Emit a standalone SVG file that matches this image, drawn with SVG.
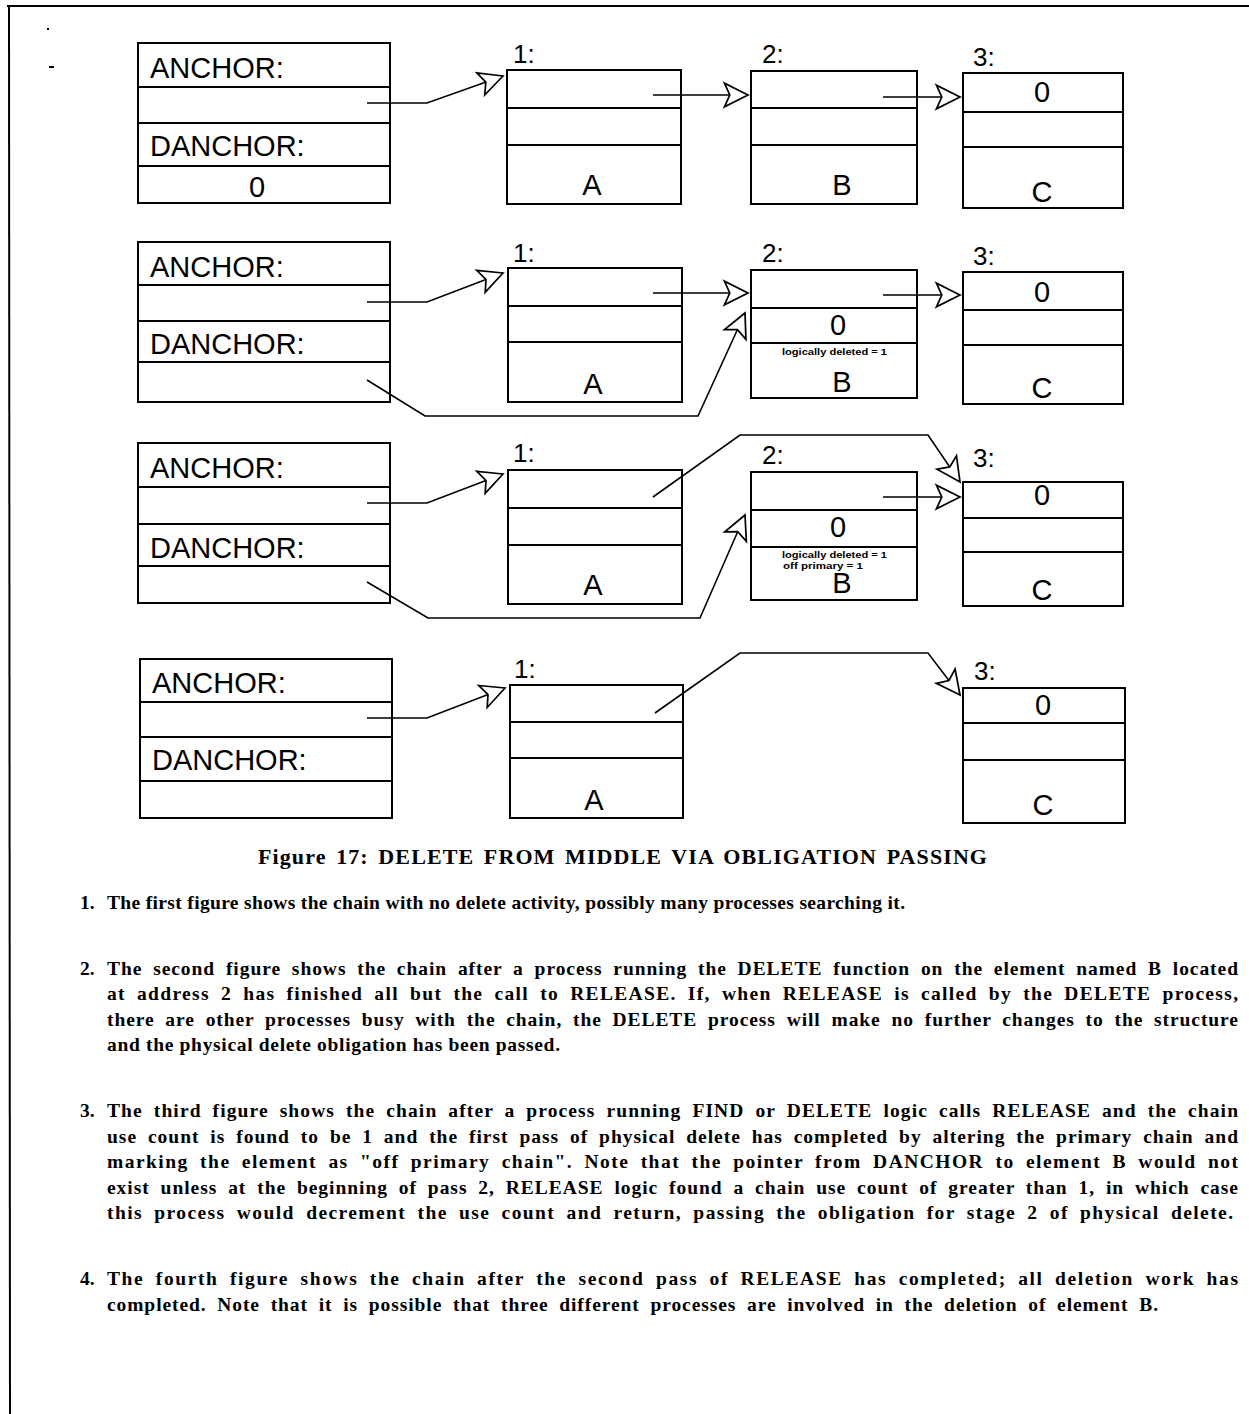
<svg xmlns="http://www.w3.org/2000/svg" width="1249" height="1414" viewBox="0 0 1249 1414">
<style>
.box{fill:none;stroke:#000;stroke-width:2}
.div{stroke:#000;stroke-width:2}
.lbl{font-family:"Liberation Sans",Arial,sans-serif;font-size:29px;fill:#000}
.num{font-family:"Liberation Sans",Arial,sans-serif;font-size:26px;fill:#000}
.tiny{font-family:"Liberation Sans",Arial,sans-serif;font-size:9px;font-weight:bold;fill:#000}
.con{fill:none;stroke:#000;stroke-width:1.6;marker-end:url(#ah)}
.body{font-family:"Liberation Serif","Times New Roman",serif;font-size:19.5px;font-weight:bold;fill:#000}
.j{word-spacing:5px}
.cap{font-family:"Liberation Serif","Times New Roman",serif;font-size:22px;font-weight:bold;fill:#000;word-spacing:3px}
.mk{stroke:#000;stroke-width:2}
</style>
<defs>
<marker id="ah" markerUnits="userSpaceOnUse" markerWidth="30" markerHeight="30" viewBox="-25 -14 28 28" refX="0" refY="0" orient="auto">
<path d="M0,0 L-22,-11 L-17,0 L-22,11 Z" fill="#fff" stroke="#000" stroke-width="1.6" stroke-linejoin="miter"/>
</marker>
</defs>
<rect width="1249" height="1414" fill="#fff"/>
<g id="border">
<line x1="7" y1="6" x2="1249" y2="6" class="mk"/>
<line x1="9" y1="5" x2="10" y2="1414" class="mk"/>
<line x1="47" y1="29" x2="49" y2="29" class="mk"/>
<line x1="49" y1="67" x2="54" y2="67" class="mk"/>
</g>

<!-- Figure 1 -->
<g id="f1-anchor">
<rect x="138" y="43" width="252" height="160" class="box"/>
<line x1="138" y1="87" x2="390" y2="87" class="div"/>
<line x1="138" y1="123" x2="390" y2="123" class="div"/>
<line x1="138" y1="166" x2="390" y2="166" class="div"/>
<text x="150" y="78" class="lbl">ANCHOR:</text>
<text x="150" y="156" class="lbl">DANCHOR:</text>
<text x="257" y="197" class="lbl" text-anchor="middle">0</text>
</g>
<g id="f1-n1">
<text x="513" y="63" class="num">1:</text>
<rect x="507" y="70" width="174" height="134" class="box"/>
<line x1="507" y1="108" x2="681" y2="108" class="div"/>
<line x1="507" y1="145" x2="681" y2="145" class="div"/>
<text x="592" y="195" class="lbl" text-anchor="middle">A</text>
</g>
<g id="f1-n2">
<text x="762" y="63" class="num">2:</text>
<rect x="751" y="71" width="166" height="133" class="box"/>
<line x1="751" y1="108" x2="917" y2="108" class="div"/>
<line x1="751" y1="145" x2="917" y2="145" class="div"/>
<text x="842" y="195" class="lbl" text-anchor="middle">B</text>
</g>
<g id="f1-n3">
<text x="973" y="66" class="num">3:</text>
<rect x="963" y="73" width="160" height="135" class="box"/>
<line x1="963" y1="112" x2="1123" y2="112" class="div"/>
<line x1="963" y1="147" x2="1123" y2="147" class="div"/>
<text x="1042" y="102" class="lbl" text-anchor="middle">0</text>
<text x="1042" y="202" class="lbl" text-anchor="middle">C</text>
</g>

<!-- Figure 2 -->
<g id="f2-anchor">
<rect x="138" y="242" width="252" height="160" class="box"/>
<line x1="138" y1="285" x2="390" y2="285" class="div"/>
<line x1="138" y1="321" x2="390" y2="321" class="div"/>
<line x1="138" y1="362" x2="390" y2="362" class="div"/>
<text x="150" y="277" class="lbl">ANCHOR:</text>
<text x="150" y="354" class="lbl">DANCHOR:</text>
</g>
<g id="f2-n1">
<text x="513" y="262" class="num">1:</text>
<rect x="508" y="268" width="174" height="134" class="box"/>
<line x1="508" y1="306" x2="682" y2="306" class="div"/>
<line x1="508" y1="342" x2="682" y2="342" class="div"/>
<text x="593" y="394" class="lbl" text-anchor="middle">A</text>
</g>
<g id="f2-n2">
<text x="762" y="262" class="num">2:</text>
<rect x="751" y="270" width="166" height="128" class="box"/>
<line x1="751" y1="308" x2="917" y2="308" class="div"/>
<line x1="751" y1="343" x2="917" y2="343" class="div"/>
<text x="838" y="335" class="lbl" text-anchor="middle">0</text>
<text x="782" y="355" class="tiny" textLength="105" lengthAdjust="spacingAndGlyphs">logically deleted = 1</text>
<text x="842" y="392" class="lbl" text-anchor="middle">B</text>
</g>
<g id="f2-n3">
<text x="973" y="265" class="num">3:</text>
<rect x="963" y="272" width="160" height="132" class="box"/>
<line x1="963" y1="310" x2="1123" y2="310" class="div"/>
<line x1="963" y1="345" x2="1123" y2="345" class="div"/>
<text x="1042" y="302" class="lbl" text-anchor="middle">0</text>
<text x="1042" y="398" class="lbl" text-anchor="middle">C</text>
</g>

<!-- Figure 3 -->
<g id="f3-anchor">
<rect x="138" y="443" width="252" height="160" class="box"/>
<line x1="138" y1="487" x2="390" y2="487" class="div"/>
<line x1="138" y1="524" x2="390" y2="524" class="div"/>
<line x1="138" y1="566" x2="390" y2="566" class="div"/>
<text x="150" y="478" class="lbl">ANCHOR:</text>
<text x="150" y="558" class="lbl">DANCHOR:</text>
</g>
<g id="f3-n1">
<text x="513" y="462" class="num">1:</text>
<rect x="508" y="470" width="174" height="134" class="box"/>
<line x1="508" y1="508" x2="682" y2="508" class="div"/>
<line x1="508" y1="545" x2="682" y2="545" class="div"/>
<text x="593" y="595" class="lbl" text-anchor="middle">A</text>
</g>
<g id="f3-n2">
<text x="762" y="464" class="num">2:</text>
<rect x="751" y="472" width="166" height="128" class="box"/>
<line x1="751" y1="510" x2="917" y2="510" class="div"/>
<line x1="751" y1="547" x2="917" y2="547" class="div"/>
<text x="838" y="537" class="lbl" text-anchor="middle">0</text>
<text x="782" y="558" class="tiny" textLength="105" lengthAdjust="spacingAndGlyphs">logically deleted = 1</text>
<text x="783" y="569" class="tiny" textLength="80" lengthAdjust="spacingAndGlyphs">off primary = 1</text>
<text x="842" y="593" class="lbl" text-anchor="middle">B</text>
</g>
<g id="f3-n3">
<text x="973" y="467" class="num">3:</text>
<rect x="963" y="482" width="160" height="124" class="box"/>
<line x1="963" y1="518" x2="1123" y2="518" class="div"/>
<line x1="963" y1="552" x2="1123" y2="552" class="div"/>
<text x="1042" y="505" class="lbl" text-anchor="middle">0</text>
<text x="1042" y="600" class="lbl" text-anchor="middle">C</text>
</g>

<!-- Figure 4 -->
<g id="f4-anchor">
<rect x="140" y="659" width="252" height="159" class="box"/>
<line x1="140" y1="702" x2="392" y2="702" class="div"/>
<line x1="140" y1="737" x2="392" y2="737" class="div"/>
<line x1="140" y1="781" x2="392" y2="781" class="div"/>
<text x="152" y="693" class="lbl">ANCHOR:</text>
<text x="152" y="770" class="lbl">DANCHOR:</text>
</g>
<g id="f4-n1">
<text x="514" y="678" class="num">1:</text>
<rect x="510" y="685" width="173" height="133" class="box"/>
<line x1="510" y1="722" x2="683" y2="722" class="div"/>
<line x1="510" y1="758" x2="683" y2="758" class="div"/>
<text x="594" y="810" class="lbl" text-anchor="middle">A</text>
</g>
<g id="f4-n3">
<text x="974" y="680" class="num">3:</text>
<rect x="963" y="688" width="162" height="135" class="box"/>
<line x1="963" y1="723" x2="1125" y2="723" class="div"/>
<line x1="963" y1="760" x2="1125" y2="760" class="div"/>
<text x="1043" y="715" class="lbl" text-anchor="middle">0</text>
<text x="1043" y="815" class="lbl" text-anchor="middle">C</text>
</g>

<g id="connectors">
<polyline class="con" points="367,103 427,103 503,76"/>
<polyline class="con" points="653,95 748,95"/>
<polyline class="con" points="883,97 960,97"/>

<polyline class="con" points="367,302 427,302 503,273"/>
<polyline class="con" points="653,293 748,293"/>
<polyline class="con" points="883,295 960,295"/>
<polyline class="con" points="367,380 425,416 698,416 745,313"/>

<polyline class="con" points="367,503 427,503 503,474"/>
<polyline class="con" points="653,497 740,435 928,435 960,482"/>
<polyline class="con" points="883,497 960,497"/>
<polyline class="con" points="367,582 428,618 700,618 745,515"/>

<polyline class="con" points="367,718 427,718 505,688"/>
<polyline class="con" points="655,713 740,653 928,653 960,695"/>
</g>

<g id="caption">
<text x="258" y="864" class="cap" textLength="729" lengthAdjust="spacing">Figure 17: DELETE FROM MIDDLE VIA OBLIGATION PASSING</text>
</g>

<g id="notes">
<text x="80" y="909" class="body">1.</text>
<text x="107" y="909" class="body" textLength="798" lengthAdjust="spacing">The first figure shows the chain with no delete activity, possibly many processes searching it.</text>

<text x="80" y="975" class="body">2.</text>
<text x="107" y="975" class="body j" textLength="1131" lengthAdjust="spacing">The second figure shows the chain after a process running the DELETE function on the element named B located</text>
<text x="107" y="1000" class="body j" textLength="1131" lengthAdjust="spacing">at address 2 has finished all but the call to RELEASE. If, when RELEASE is called by the DELETE process,</text>
<text x="107" y="1026" class="body j" textLength="1131" lengthAdjust="spacing">there are other processes busy with the chain, the DELETE process will make no further changes to the structure</text>
<text x="107" y="1051" class="body" textLength="453" lengthAdjust="spacing">and the physical delete obligation has been passed.</text>

<text x="80" y="1117" class="body">3.</text>
<text x="107" y="1117" class="body j" textLength="1131" lengthAdjust="spacing">The third figure shows the chain after a process running FIND or DELETE logic calls RELEASE and the chain</text>
<text x="107" y="1143" class="body j" textLength="1131" lengthAdjust="spacing">use count is found to be 1 and the first pass of physical delete has completed by altering the primary chain and</text>
<text x="107" y="1168" class="body j" textLength="1131" lengthAdjust="spacing">marking the element as "off primary chain". Note that the pointer from DANCHOR to element B would not</text>
<text x="107" y="1194" class="body j" textLength="1131" lengthAdjust="spacing">exist unless at the beginning of pass 2, RELEASE logic found a chain use count of greater than 1, in which case</text>
<text x="107" y="1219" class="body j" textLength="1126" lengthAdjust="spacing">this process would decrement the use count and return, passing the obligation for stage 2 of physical delete.</text>

<text x="80" y="1285" class="body">4.</text>
<text x="107" y="1285" class="body j" textLength="1131" lengthAdjust="spacing">The fourth figure shows the chain after the second pass of RELEASE has completed; all deletion work has</text>
<text x="107" y="1311" class="body j" textLength="1051" lengthAdjust="spacing">completed. Note that it is possible that three different processes are involved in the deletion of element B.</text>
</g>
</svg>
